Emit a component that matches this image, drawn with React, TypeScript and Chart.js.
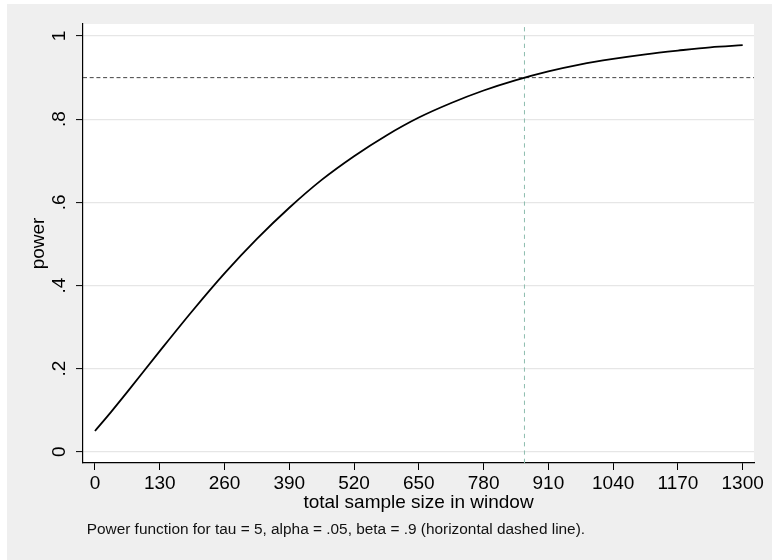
import React, { useEffect, useRef } from "react";
import { Chart, registerables } from "chart.js";

Chart.register(...registerables);

// ---- data ----
const SAMPLE_SIZE = [0, 32.5, 65, 130, 195, 260, 325, 390, 455, 520, 585, 650, 715, 780, 845, 910, 975, 1040, 1105, 1170, 1235, 1300];
const POWER = [0.05, 0.096, 0.144, 0.242, 0.338, 0.429, 0.512, 0.587, 0.654, 0.711, 0.761, 0.804, 0.839, 0.869, 0.894, 0.915, 0.932, 0.945, 0.956, 0.965, 0.973, 0.978];

const X_TICKS = [0, 130, 260, 390, 520, 650, 780, 910, 1040, 1170, 1300];
const Y_TICKS = [0, 0.2, 0.4, 0.6, 0.8, 1];
const Y_TICK_LABELS = ["0", ".2", ".4", ".6", ".8", "1"];

const X_RANGE = [-24, 1322.7];
const Y_RANGE = [-0.027, 1.029];

const TARGET_POWER = 0.9;
const REQUIRED_N = 862;

const X_TITLE = "total sample size in window";
const Y_TITLE = "power";
const CAPTION = "Power function for tau = 5, alpha = .05, beta = .9 (horizontal dashed line).";

const FONT = "'Liberation Sans', Arial, Helvetica, sans-serif";

export default function App() {
  const canvasRef = useRef<HTMLCanvasElement | null>(null);

  useEffect(() => {
    const canvas = canvasRef.current;
    if (!canvas) return;

    const curve = SAMPLE_SIZE.map((x, i) => ({ x, y: POWER[i] }));
    const hLine = [
      { x: X_RANGE[0], y: TARGET_POWER },
      { x: X_RANGE[1], y: TARGET_POWER },
    ];
    const vLine = [
      { x: REQUIRED_N, y: Y_RANGE[0] },
      { x: REQUIRED_N, y: Y_RANGE[1] },
    ];

    const plotBg = {
      id: "plotBg",
      beforeDraw(chart: any) {
        const { ctx, chartArea } = chart;
        ctx.save();
        ctx.fillStyle = "#ffffff";
        ctx.fillRect(chartArea.left, chartArea.top, chartArea.right - chartArea.left, chartArea.bottom - chartArea.top);
        ctx.restore();
      },
    };

    const caption = {
      id: "caption",
      afterDraw(chart: any) {
        const { ctx, chartArea } = chart;
        ctx.save();
        ctx.fillStyle = "#111";
        ctx.font = `15.4px ${FONT}`;
        ctx.textAlign = "left";
        ctx.textBaseline = "alphabetic";
        ctx.fillText(CAPTION, chartArea.left + 3.7, 530);
        ctx.restore();
      },
    };

    const chart = new Chart(canvas, {
      type: "line",
      data: {
        datasets: [
          {
            data: curve,
            borderColor: "#000",
            borderWidth: 1.8,
            pointRadius: 0,
            cubicInterpolationMode: "monotone",
            fill: false,
          },
          {
            data: hLine,
            borderColor: "#444",
            borderWidth: 1,
            borderDash: [4, 2.7],
            pointRadius: 0,
            fill: false,
          },
          {
            data: vLine,
            borderColor: "#8dbdae",
            borderWidth: 1,
            borderDash: [4.3, 4],
            pointRadius: 0,
            fill: false,
          },
        ],
      },
      options: {
        responsive: false,
        animation: false,
        events: [],
        layout: { padding: { left: 20, right: 18, top: 20, bottom: 46 } },
        plugins: {
          legend: { display: false },
          tooltip: { enabled: false },
          title: { display: false },
        },
        scales: {
          x: {
            type: "linear",
            min: X_RANGE[0],
            max: X_RANGE[1],
            afterBuildTicks: (scale: any) => {
              scale.ticks = X_TICKS.map((v) => ({ value: v }));
            },
            afterFit: (scale: any) => {
              scale.height = 51;
            },
            grid: {
              drawOnChartArea: false,
              drawTicks: true,
              tickLength: 7,
              tickColor: "#000",
              tickWidth: 1,
            },
            border: { display: true, color: "#000", width: 1.2 },
            ticks: {
              autoSkip: false,
              maxRotation: 0,
              minRotation: 0,
              padding: 2,
              color: "#000",
              font: { family: FONT, size: 19 },
              callback: (v: any) => String(v),
            },
            title: {
              display: true,
              text: X_TITLE,
              color: "#000",
              padding: 0,
              font: { family: FONT, size: 19 },
            },
          },
          y: {
            type: "linear",
            min: Y_RANGE[0],
            max: Y_RANGE[1],
            afterBuildTicks: (scale: any) => {
              scale.ticks = Y_TICKS.map((v) => ({ value: v }));
            },
            afterFit: (scale: any) => {
              scale.width = 56;
            },
            grid: {
              drawOnChartArea: true,
              color: "#e6e6e6",
              lineWidth: 1.2,
              drawTicks: true,
              tickLength: 7,
              tickColor: "#000",
              tickWidth: 1,
            },
            border: { display: true, color: "#000", width: 1.2 },
            ticks: {
              autoSkip: false,
              minRotation: 90,
              maxRotation: 90,
              crossAlign: "center",
              padding: 8,
              color: "#000",
              font: { family: FONT, size: 19 },
              callback: (v: any) => {
                const i = Y_TICKS.findIndex((t) => Math.abs(t - Number(v)) < 1e-9);
                return i >= 0 ? Y_TICK_LABELS[i] : "";
              },
            },
            title: {
              display: true,
              text: Y_TITLE,
              color: "#000",
              padding: 0,
              font: { family: FONT, size: 19 },
            },
          },
        },
      },
      plugins: [plotBg, caption],
    } as any);

    return () => chart.destroy();
  }, []);

  return (
    <div
      style={{
        position: "absolute",
        left: 7,
        top: 4,
        width: 765,
        height: 556,
        background: "#efefef",
      }}
    >
      <canvas ref={canvasRef} width={765} height={556} style={{ display: "block", width: 765, height: 556 }} />
    </div>
  );
}
